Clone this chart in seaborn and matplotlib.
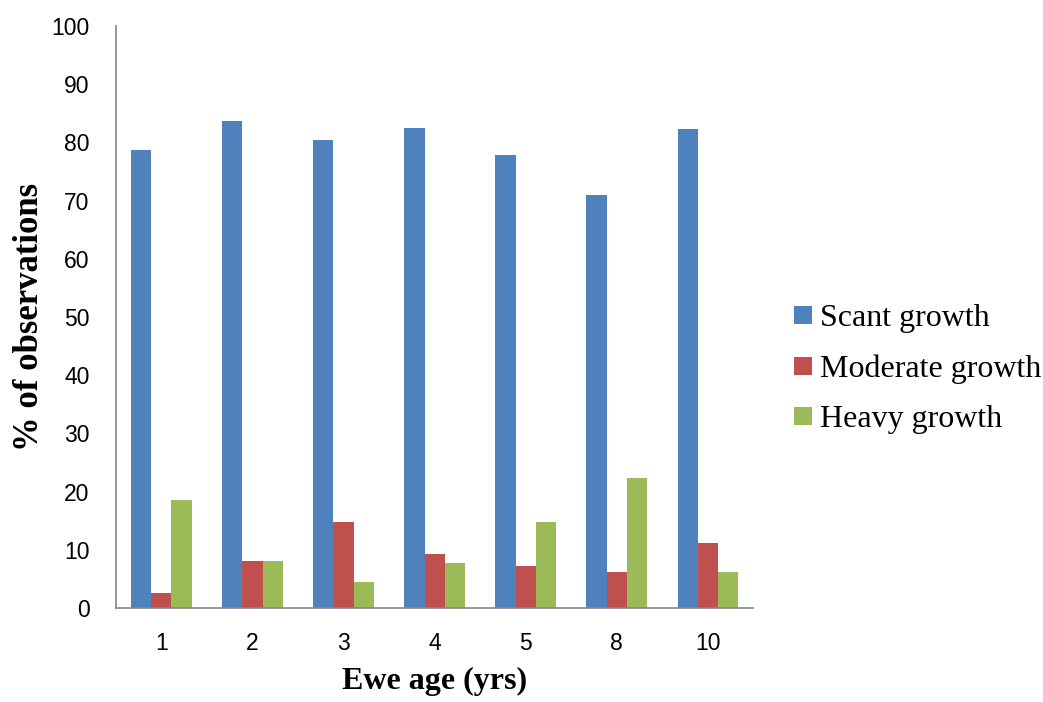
import matplotlib
matplotlib.use("Agg")
import matplotlib.pyplot as plt
import seaborn as sns
import pandas as pd
import numpy as np

ages = ["1", "2", "3", "4", "5", "8", "10"]
scant = [78.7, 83.6, 80.4, 82.5, 77.8, 71.0, 82.3]
moderate = [2.5, 8.0, 14.8, 9.3, 7.3, 6.2, 11.2]
heavy = [18.6, 8.1, 4.5, 7.7, 14.7, 22.4, 6.2]
series_names = ["Scant growth", "Moderate growth", "Heavy growth"]
colors = ["#4F81BD", "#C0504D", "#9BBB59"]
y_ticks = [0, 10, 20, 30, 40, 50, 60, 70, 80, 90, 100]

rows = []
for name, vals in zip(series_names, [scant, moderate, heavy]):
    for a, v in zip(ages, vals):
        rows.append({"age": a, "series": name, "value": v})
df = pd.DataFrame(rows)

sns.set_style("white")
plt.rcParams["font.family"] = ["Liberation Sans", "DejaVu Sans"]
plt.rcParams["text.color"] = "black"
plt.rcParams["axes.labelcolor"] = "black"
plt.rcParams["xtick.color"] = "black"
plt.rcParams["ytick.color"] = "black"

fig = plt.figure(figsize=(10.43, 7.02), dpi=100)
ax = fig.add_axes([0.1112, 0.1339, 0.6108, 0.8291])

sns.barplot(data=df, x="age", y="value", hue="series", order=ages,
            hue_order=series_names, palette=colors, width=0.66,
            saturation=1, ax=ax, legend=True, errorbar=None,
            edgecolor="none")

ax.set_ylim(0, 100)
ax.set_xlim(-0.5, len(ages) - 0.5)
ax.set_yticks(y_ticks)
ax.set_yticklabels([str(t) for t in y_ticks], fontsize=16.5)
ax.set_xticks(range(len(ages)))
ax.set_xticklabels(ages, fontsize=16.5)
ax.set_xticks(np.arange(-0.5, len(ages), 1.0), minor=True)
ax.tick_params(axis="x", which="major", length=0, pad=17, labelcolor="black")
ax.tick_params(axis="x", which="minor", length=6, width=1.2, color="#868686", direction="out")
ax.tick_params(axis="y", which="major", length=6, width=1.2, color="#868686", direction="out", pad=13, labelcolor="black")

for s in ["top", "right"]:
    ax.spines[s].set_visible(False)
for s in ["left", "bottom"]:
    ax.spines[s].set_color("#868686")
    ax.spines[s].set_linewidth(1.2)

ax.set_xlabel("Ewe age (yrs)", fontsize=23, fontweight="bold", family="Liberation Serif", labelpad=9, color="black")
ax.set_ylabel("% of observations", fontsize=25, fontweight="bold", family="Liberation Serif", labelpad=10, color="black")
ax.yaxis.set_label_coords(-0.11, 0.5)

handles, labels = ax.get_legend_handles_labels()
ax.get_legend().remove()
fig.legend(handles, labels, loc="center left", bbox_to_anchor=(0.734, 0.474),
           frameon=False, prop={"family": "Liberation Serif", "size": 23},
           handlelength=0.55, handleheight=0.5, handletextpad=0.25, labelspacing=0.66)

fig.savefig("out.png", dpi=100)
